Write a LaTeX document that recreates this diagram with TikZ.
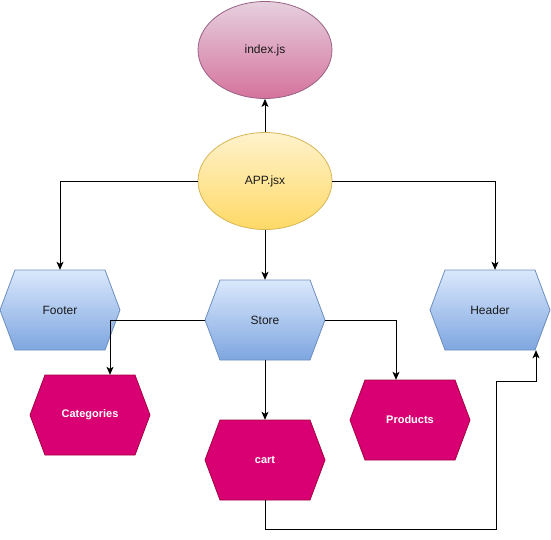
\documentclass[tikz,border=0pt]{standalone}
\usepackage{fontspec}
\setmainfont{Liberation Sans}
\usetikzlibrary{shapes.geometric,arrows.meta}
\definecolor{pinktop}{HTML}{E6D0DE}
\definecolor{pinkbot}{HTML}{D5739D}
\definecolor{pinkline}{HTML}{996185}
\definecolor{yeltop}{HTML}{FFF2CC}
\definecolor{yelbot}{HTML}{FFD966}
\definecolor{yelline}{HTML}{D6B656}
\definecolor{bluetop}{HTML}{DAE8FC}
\definecolor{bluebot}{HTML}{7EA6E0}
\definecolor{blueline}{HTML}{6C8EBF}
\definecolor{magfill}{HTML}{D80073}
\definecolor{magline}{HTML}{A50040}
\definecolor{txt}{HTML}{1A1A1A}
\tikzset{
  ell/.style={ellipse, draw, line width=0.8pt, minimum width=134pt, minimum height=97pt, inner sep=0pt,
    font=\fontsize{12}{14}\selectfont, text=txt},
  idx/.style={ell, draw=pinkline, top color=pinktop, bottom color=pinkbot},
  appst/.style={ell, draw=yelline, top color=yeltop, bottom color=yelbot},
  hexbox/.style={rectangle, draw=none, minimum width=120pt, minimum height=80pt, inner sep=0pt,
    font=\fontsize{12}{14}\selectfont},
  bluehex/.style={draw=blueline, line width=0.8pt, top color=bluetop, bottom color=bluebot},
  maghex/.style={draw=magline, line width=0.8pt, fill=magfill},
  bluetext/.style={hexbox, text=txt},
  magtext/.style={hexbox, text=white, font=\fontsize{11}{13}\selectfont\bfseries},
  conn/.style={draw=black, line width=0.9pt, -{Stealth[length=8pt,width=7pt,inset=2pt]}}
}
\newcommand{\hexshape}[3]{%
  \path[#3] (#1-60,#2) -- (#1-45,#2-40) -- (#1+45,#2-40) -- (#1+60,#2) -- (#1+45,#2+40) -- (#1-45,#2+40) -- cycle;}
\begin{document}
\begin{tikzpicture}[x=1pt,y=-1pt]
\useasboundingbox[fill=white] (0,0) rectangle (551,539);
% ellipses
\node[idx] (index) at (265,50) {index.js};
\node[appst] (app) at (265,181) {APP.jsx};
% hexagons
\hexshape{60}{310}{bluehex}
\node[bluetext] (footer) at (60,310) {Footer};
\hexshape{265}{320}{bluehex}
\node[bluetext] (store) at (265,320) {Store};
\hexshape{490}{310}{bluehex}
\node[bluetext] (header) at (490,310) {Header};
\hexshape{90}{415}{maghex}
\node[magtext] (cat) at (90,415) {Categories};
\hexshape{265}{460}{maghex}
\node[magtext] (cart) at (265,460) {cart};
\hexshape{410}{420}{maghex}
\node[magtext] (prod) at (410,420) {Products};
% connectors
\coordinate (turn) at (496,381);
\draw[conn] (app.north) -- (index.south);
\draw[conn] (app.west) -| (footer.north);
\draw[conn] (app.east) -| ([xshift=5pt]header.north);
\draw[conn] (app.south) -- (store.north);
\draw[conn] (store.west) -| ([xshift=20pt]cat.north);
\draw[conn] (store.east) -| ([xshift=-14pt]prod.north);
\draw[conn] (store.south) -- (cart.north);
\draw[conn] (cart.south) -- ++(0,29) -| (turn) -| ([xshift=46pt]header.south);
\end{tikzpicture}
\end{document}
